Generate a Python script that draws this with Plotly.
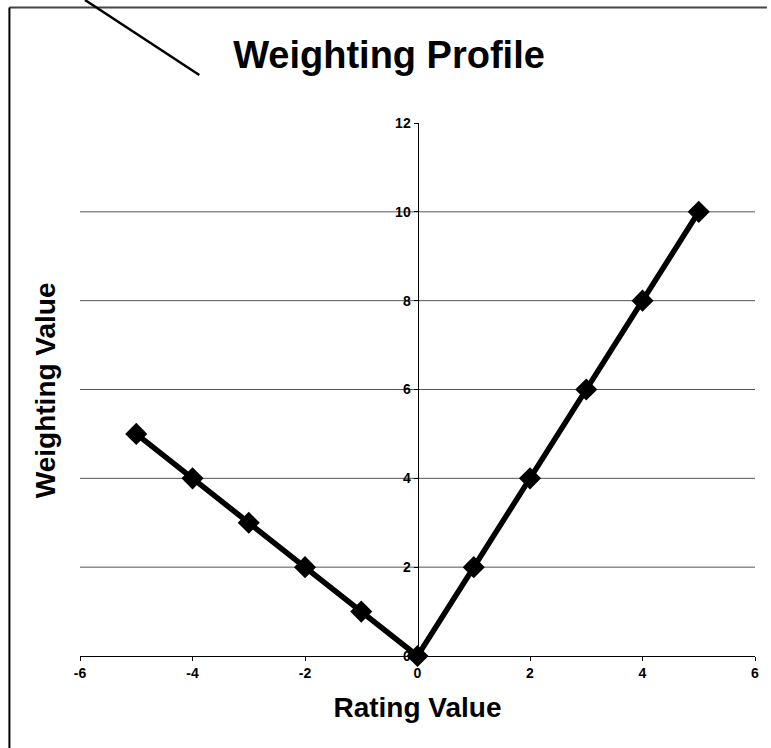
import plotly.graph_objects as go

rating = [-5, -4, -3, -2, -1, 0, 1, 2, 3, 4, 5]
weight = [5, 4, 3, 2, 1, 0, 2, 4, 6, 8, 10]
x_ticks = [-6, -4, -2, 0, 2, 4, 6]
y_ticks = [0, 2, 4, 6, 8, 10, 12]
grid_vals = [2, 4, 6, 8, 10]

W, H = 771, 748
L, R, T, B = 80, 12, 123, 92
pw, ph = W - L - R, H - T - B

def px(x):
    return (x - L) / pw

def py(y):
    return (H - B - y) / ph

FONT = "Liberation Sans, Arial, sans-serif"

fig = go.Figure()
fig.add_trace(go.Scatter(
    x=rating, y=weight, mode="lines+markers",
    line=dict(color="black", width=5.5),
    marker=dict(symbol="diamond", size=17, color="black"),
    cliponaxis=False, showlegend=False,
))

shapes = []
for g in grid_vals:
    shapes.append(dict(type="line", xref="paper", yref="y", x0=0, x1=1, y0=g, y1=g,
                       line=dict(color="#555555", width=1), layer="below"))
# frame lines
shapes.append(dict(type="line", xref="paper", yref="paper", x0=px(9), x1=px(771),
                   y0=py(7.5), y1=py(7.5), line=dict(color="#444444", width=2)))
shapes.append(dict(type="line", xref="paper", yref="paper", x0=px(9), x1=px(9),
                   y0=py(7.5), y1=py(748), line=dict(color="black", width=2)))
# stray diagonal line
shapes.append(dict(type="line", xref="paper", yref="paper", x0=px(85), x1=px(200),
                   y0=py(0), y1=py(75), line=dict(color="black", width=2.5)))

fig.update_layout(
    width=W, height=H,
    margin=dict(l=L, r=R, t=T, b=B),
    paper_bgcolor="white", plot_bgcolor="white",
    shapes=shapes,
    title=dict(text="Weighting Profile", xref="container", x=389 / W, xanchor="center",
               yref="container", y=1 - 55 / H, yanchor="middle",
               font=dict(family=FONT, size=38, color="black", weight="bold")),
    xaxis=dict(range=[-6, 6], tickvals=x_ticks, ticktext=[str(v) for v in x_ticks],
               showgrid=False, zeroline=False, showline=True, linecolor="black", linewidth=1,
               ticks="outside", ticklen=4, tickcolor="black",
               tickfont=dict(family=FONT, size=14, color="black", weight="bold"),
               title=dict(text="Rating Value", standoff=17,
                          font=dict(family=FONT, size=28, color="black", weight="bold"))),
    yaxis=dict(range=[0, 12], tickvals=y_ticks, ticktext=[str(v) for v in y_ticks],
               anchor="free", position=0.5,
               showgrid=False, zeroline=False, showline=True, linecolor="black", linewidth=1,
               ticks="outside", ticklen=4, tickcolor="black", layer="below traces",
               tickfont=dict(family=FONT, size=14, color="black", weight="bold")),
)

fig.add_annotation(text="Weighting Value", xref="paper", yref="paper",
                   x=px(45), y=py(390), textangle=-90, showarrow=False,
                   xanchor="center", yanchor="middle",
                   font=dict(family=FONT, size=28, color="black", weight="bold"))

fig.write_html("out.html", config={"displayModeBar": False},
               post_script="document.body.style.margin='0';document.body.style.overflow='hidden';")
